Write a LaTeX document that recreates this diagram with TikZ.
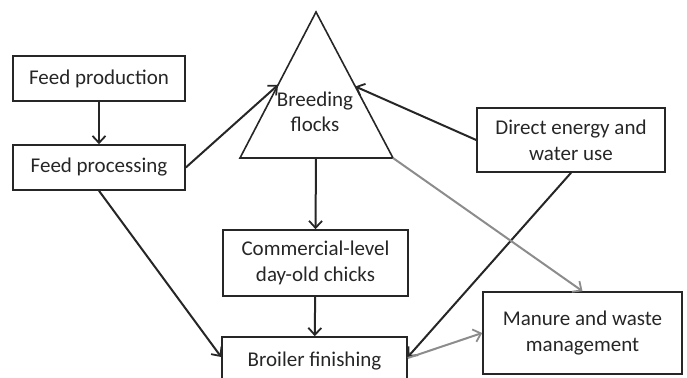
\documentclass[tikz,border=0pt]{standalone}
\usepackage{fontspec}
\setmainfont{Carlito}
\usetikzlibrary{arrows.meta,calc}
\tikzset{
  box/.style={draw=black!85, line width=1.6pt, align=center, inner sep=2pt,
    font=\fontsize{21}{26}\selectfont, text=black!85},
  flow/.style={draw=black!85, line width=2pt, -{Straight Barb[length=7pt,width=13pt,line width=1.8pt]}},
  waste/.style={flow, draw=black!45}
}
\begin{document}
\begin{tikzpicture}[x=1pt,y=-1pt]
    \useasboundingbox (0,0) rectangle (687,377);
    \clip (0,0) rectangle (687,377);

    % boxes
    \node[box, minimum width=172pt, minimum height=45pt] (fprod) at (99,78.5) {Feed production};
    \node[box, minimum width=172pt, minimum height=45pt] (fproc) at (99,167.5) {Feed processing};
    \node[box, minimum width=188pt, minimum height=64pt] (energy) at (571,140) {Direct energy and\\water use};
    \node[box, minimum width=185pt, minimum height=66pt] (chicks) at (315.5,263) {Commercial-level\\day-old chicks};
    \node[box, minimum width=185pt, minimum height=48pt] (broiler) at (314.5,361) {Broiler finishing};
    \node[box, minimum width=199pt, minimum height=82pt] (manure) at (582.5,333) {Manure and waste\\management};

    % breeding flocks triangle
    \coordinate (apex) at (316,12);
    \coordinate (bl) at (240,158);
    \coordinate (br) at (393,158);
    \coordinate (bbase) at (316,158);
    \draw[draw=black!85, line width=1.6pt, line join=miter] (bl) -- (apex) -- (br) -- cycle;
    \node[font=\fontsize{21}{25}\selectfont, text=black!85, align=center] (flocks) at (315,112) {Breeding\\flocks};
    \coordinate (tri-in) at ($(bl)!0.5!(apex)$);
    \coordinate (tri-en) at ($(br)!0.49!(apex)$);

    % flows
    \draw[flow] (fprod) -- (fproc);
    \draw[flow] (fproc.east) -- (tri-in);
    \draw[flow] (energy.west) -- (tri-en);
    \draw[flow] (bbase) -- (chicks.north);
    \draw[flow] (chicks) -- (broiler);
    \draw[flow] (fproc.south) -- ([yshift=4pt]broiler.west);
    \draw[flow] (energy.south) -- ([yshift=4pt]broiler.east);

    % waste flows
    \draw[waste] (br) -- (manure.north);
    \draw[waste] ([yshift=3pt]broiler.east) -- (manure.west);
\end{tikzpicture}
\end{document}
